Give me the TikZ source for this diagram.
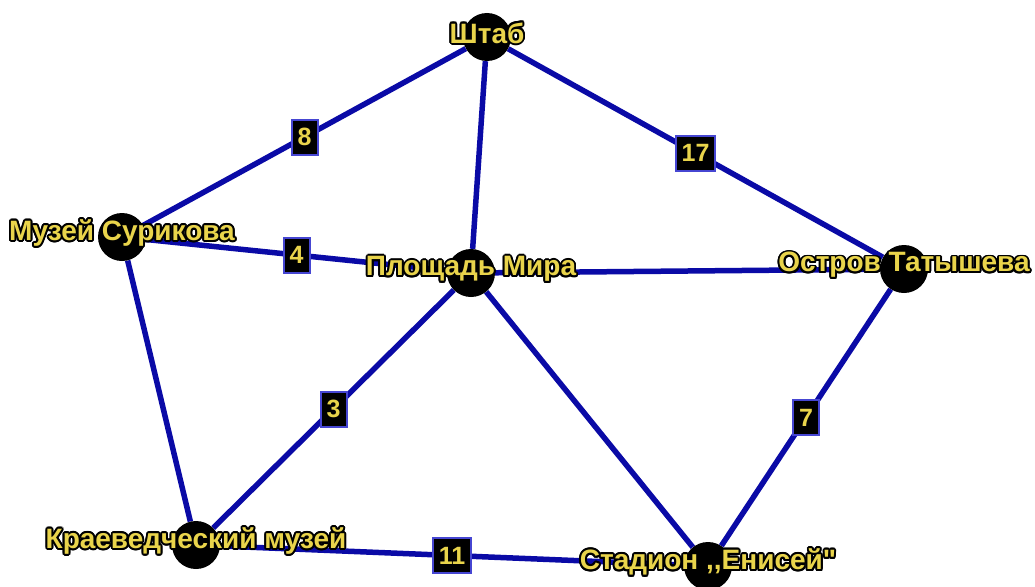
\documentclass[tikz,border=0pt]{standalone}
\usepackage{fontspec}
\setmainfont{Liberation Sans}[Ligatures=TeXOff]
\usepackage{xcolor}
\usepackage{contour}
\usetikzlibrary{backgrounds}
\definecolor{edgeblue}{HTML}{0A0AA6}
\definecolor{boxblue}{HTML}{4646D2}
\definecolor{txtyellow}{HTML}{E9D44B}
\contourlength{1.9pt}
\newcommand{\yl}[1]{\contour{black}{\textcolor{txtyellow}{#1}}}
\tikzset{
  stopnode/.style={circle, fill=black, minimum size=48pt, inner sep=0pt},
  lbl/.style={font=\bfseries\fontsize{28}{28}\selectfont, inner sep=0pt, yshift=3pt},
  road/.style={draw=edgeblue, line width=5.5pt},
  wt/.style={fill=black, draw=boxblue, line width=2pt, inner xsep=6pt, inner ysep=2pt,
             minimum width=26pt, minimum height=35pt,
             text=txtyellow, font=\bfseries\fontsize{25}{25}\selectfont},
}

\begin{document}
\begin{tikzpicture}[x=1pt, y=-1pt]
  \useasboundingbox (0,0) rectangle (1035,586);
  \node (shtab)   [stopnode] at (487,37)  {};
  \node (surikov) [stopnode] at (122,237) {};
  \node (ploshad) [stopnode] at (471,273) {};
  \node (ostrov)  [stopnode] at (904,269) {};
  \node (kraeved) [stopnode] at (196,545) {};
  \node (stadion) [stopnode] at (708,566) {};

  \begin{scope}[on background layer]
    \draw[road] (shtab) -- node[wt]{8} (surikov);
    \draw[road] (shtab) -- (ploshad);
    \draw[road] (shtab) -- node[wt]{17} (ostrov);
    \draw[road] (surikov) -- node[wt]{4} (ploshad);
    \draw[road] (ploshad) -- (ostrov);
    \draw[road] (surikov) -- (kraeved);
    \draw[road] (ploshad) -- node[wt]{3} (kraeved);
    \draw[road] (ploshad) -- (stadion);
    \draw[road] (ostrov) -- node[wt]{7} (stadion);
    \draw[road] (kraeved) -- node[wt]{11} (stadion);
  \end{scope}

  \node (shtab-t)   [lbl] at (shtab)   {\yl{Штаб}};
  \node (surikov-t) [lbl] at (surikov) {\yl{Музей Сурикова}};
  \node (ploshad-t) [lbl] at (ploshad) {\yl{Площадь Мира}};
  \node (ostrov-t)  [lbl] at (ostrov)  {\yl{Остров Татышева}};
  \node (kraeved-t) [lbl] at (kraeved) {\yl{Краеведческий музей}};
  \node (stadion-t) [lbl] at (stadion) {\yl{Стадион ,,Енисей"}};
\end{tikzpicture}
\end{document}
